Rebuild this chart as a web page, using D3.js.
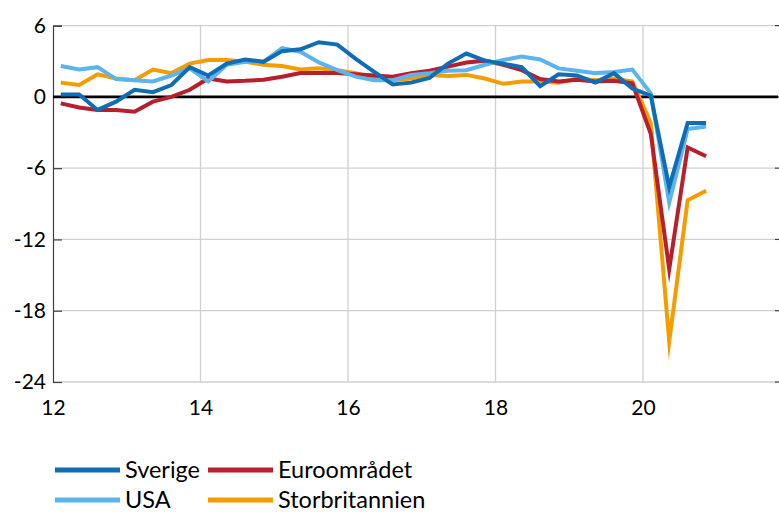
<!DOCTYPE html>
<html>
<head>
<meta charset="utf-8">
<script src="https://cdn.jsdelivr.net/npm/d3@7"></script>
<style>
  html, body { margin: 0; padding: 0; background: #fff; }
  svg { display: block; font-family: Lato, "Open Sans", sans-serif; }
</style>
</head>
<body>
<svg id="chart" width="779" height="512"></svg>
<script>
// ---- data ----
const quarters = [
  "2012K1","2012K2","2012K3","2012K4","2013K1","2013K2","2013K3","2013K4",
  "2014K1","2014K2","2014K3","2014K4","2015K1","2015K2","2015K3","2015K4",
  "2016K1","2016K2","2016K3","2016K4","2017K1","2017K2","2017K3","2017K4",
  "2018K1","2018K2","2018K3","2018K4","2019K1","2019K2","2019K3","2019K4",
  "2020K1","2020K2","2020K3","2020K4"
];
const sverige = [0.2, 0.2, -1.1, -0.4, 0.6, 0.4, 1.0, 2.5, 1.8, 2.8, 3.15, 2.95,
  3.85, 4.0, 4.6, 4.4, 3.2, 2.1, 1.05, 1.2, 1.6, 2.8, 3.65, 3.05,
  2.8, 2.5, 0.9, 1.9, 1.8, 1.2, 2.0, 0.7, 0.1, -7.6, -2.2, -2.2];
const euroomradet = [-0.55, -0.9, -1.1, -1.1, -1.25, -0.4, 0.0, 0.6, 1.55, 1.3, 1.35, 1.45,
  1.7, 2.0, 2.0, 2.0, 1.9, 1.8, 1.7, 2.0, 2.2, 2.55, 2.9, 3.05,
  2.7, 2.25, 1.5, 1.3, 1.45, 1.3, 1.35, 1.15, -3.1, -14.5, -4.25, -5.0];
const usa = [2.6, 2.3, 2.5, 1.5, 1.4, 1.3, 1.8, 2.4, 1.3, 2.7, 2.95, 2.95,
  4.1, 3.8, 2.9, 2.25, 1.7, 1.4, 1.4, 1.85, 2.0, 2.2, 2.25, 2.7,
  3.1, 3.4, 3.15, 2.4, 2.2, 2.0, 2.1, 2.3, 0.3, -8.9, -2.7, -2.5];
const storbritannien = [1.2, 1.0, 1.9, 1.55, 1.4, 2.3, 2.0, 2.8, 3.1, 3.1, 2.95, 2.7,
  2.6, 2.3, 2.4, 2.25, 2.0, 1.6, 1.4, 1.55, 1.85, 1.75, 1.85, 1.55,
  1.1, 1.3, 1.3, 1.2, 1.55, 1.4, 1.55, 1.3, -2.2, -20.6, -8.7, -7.9];
const xTicks = [12, 14, 16, 18, 20];
const yTicks = [6, 0, -6, -12, -18, -24];
const seriesNames = ["Sverige", "Euroområdet", "USA", "Storbritannien"];
const seriesColors = ["#0f6db5", "#b71f2d", "#5bb4ee", "#f59c00"];

// ---- layout ----
const svg = d3.select("#chart");
const mLeft = 53, mRight = 778, mTop = 25.6, mBottom = 382;

// quarter label -> fractional year (two-digit), placed inside quarter
function qx(label) {
  const yr = +label.slice(2, 4);
  const q = +label.slice(5);
  return yr + (q - 1) / 4 + 0.105;
}

const x = d3.scaleLinear().domain([12, 21.83]).range([mLeft, mRight]);
const y = d3.scaleLinear().domain([-24, 6]).range([mBottom, mTop]);

// horizontal gridlines
svg.append("g").selectAll("line")
  .data(yTicks.filter(d => d !== 0))
  .join("line")
  .attr("x1", mLeft).attr("x2", mRight)
  .attr("y1", d => y(d)).attr("y2", d => y(d))
  .attr("stroke", "#d0d0d0").attr("stroke-width", 1.3);

// vertical gridlines
svg.append("g").selectAll("line")
  .data(xTicks.filter(d => d !== 12))
  .join("line")
  .attr("x1", d => x(d)).attr("x2", d => x(d))
  .attr("y1", mTop).attr("y2", mBottom)
  .attr("stroke", "#d0d0d0").attr("stroke-width", 1.3);

// y axis
const yAxis = d3.axisLeft(y).tickValues(yTicks).tickSize(-9).tickPadding(7)
  .tickFormat(d => String(d));
const gy = svg.append("g").attr("transform", `translate(${mLeft},0)`).call(yAxis);
gy.select(".domain").attr("stroke", "#404040").attr("stroke-width", 1.2);
gy.selectAll(".tick line").attr("stroke", "#404040").attr("stroke-width", 1.2);
gy.selectAll("text").attr("font-size", 21).attr("fill", "#000")
  .attr("font-family", "Lato, sans-serif");

// right side small ticks
svg.append("g").selectAll("line")
  .data(yTicks)
  .join("line")
  .attr("x1", mRight - 3).attr("x2", mRight + 1)
  .attr("y1", d => y(d)).attr("y2", d => y(d))
  .attr("stroke", "#404040").attr("stroke-width", 1.2);

// x axis labels
const xAxis = d3.axisBottom(x).tickValues(xTicks).tickSize(0).tickPadding(18)
  .tickFormat(d => String(d));
const gx = svg.append("g").attr("transform", `translate(0,${mBottom})`).call(xAxis);
gx.select(".domain").remove();
gx.selectAll("text").attr("font-size", 21).attr("fill", "#000")
  .attr("font-family", "Lato, sans-serif");

// zero line
svg.append("line")
  .attr("x1", mLeft).attr("x2", mRight)
  .attr("y1", y(0)).attr("y2", y(0))
  .attr("stroke", "#000").attr("stroke-width", 2.6);

// lines
const allSeries = [sverige, euroomradet, usa, storbritannien];
const line = d3.line()
  .x((d, i) => x(qx(quarters[i])))
  .y(d => y(d));
const drawOrder = [3, 1, 2, 0];
svg.append("g").selectAll("path")
  .data(drawOrder)
  .join("path")
  .attr("d", k => line(allSeries[k]))
  .attr("fill", "none")
  .attr("stroke", k => seriesColors[k])
  .attr("stroke-width", 4)
  .attr("stroke-linejoin", "miter")
  .attr("stroke-miterlimit", 20);

// legend
const legendPos = [[55, 470], [208, 470], [55, 500], [208, 500]];
const lg = svg.append("g").selectAll("g")
  .data(seriesNames)
  .join("g")
  .attr("transform", (d, i) => `translate(${legendPos[i][0]},${legendPos[i][1]})`);
lg.append("line")
  .attr("x1", 0).attr("x2", 65).attr("y1", 0).attr("y2", 0)
  .attr("stroke", (d, i) => seriesColors[i]).attr("stroke-width", 5);
lg.append("text")
  .attr("x", 70).attr("y", 0).attr("dy", "0.35em")
  .attr("font-size", 23.5).attr("fill", "#000")
  .text(d => d);
</script>
</body>
</html>
